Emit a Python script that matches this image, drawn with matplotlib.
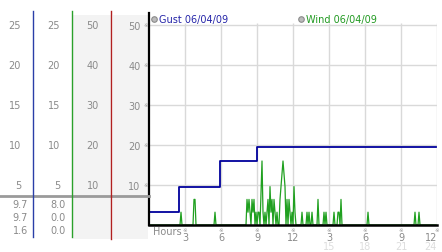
import numpy as np
import matplotlib
matplotlib.use("Agg")
import matplotlib.pyplot as plt
from matplotlib.transforms import blended_transform_factory
from matplotlib.lines import Line2D
from matplotlib.patches import Rectangle

# ---------------- data ----------------
gust_hours = [0.0, 2.5, 5.9, 9.0, 23.9]
gust_mph = [1.6, 4.7, 8.0, 9.7, 9.7]

# wind samples every 5 minutes (index = 5-min slot of the day), mph
wind_slots = [32, 45, 46, 66,
              98, 99, 100, 101, 103, 104, 105, 107, 109, 110, 112, 113, 114,
              116, 118, 119, 121, 122, 123, 125, 126, 128, 131, 132, 133, 134,
              135, 136, 138, 140, 141, 143, 145, 146,
              153, 158, 160, 163, 169, 175, 177, 185, 189, 190, 192,
              219, 266, 270]
wind_mph = [1.6, 3.2, 3.2, 1.6,
            3.2, 1.6, 3.2, 1.6, 3.2, 1.6, 3.2, 1.6, 1.6, 1.6, 4.0, 8.0, 1.6,
            1.6, 1.6, 3.2, 4.8, 1.6, 3.2, 3.2, 1.6, 1.6, 3.2, 4.8, 6.4, 8.0,
            6.4, 4.8, 3.2, 3.2, 1.6, 1.6, 4.8, 1.6,
            1.6, 1.6, 1.6, 1.6, 3.2, 1.6, 1.6, 1.6, 1.6, 1.6, 3.2,
            1.6, 1.6, 1.6]

col1_labels = [25, 20, 15, 10, 5]      # gust mph scale
col2_labels = [25, 20, 15, 10, 5]      # wind mph scale
col3_labels = [50, 40, 30, 20, 10]     # wind km/h-like scale
main_ticks = [5, 10, 15, 20, 25]
main_tick_labels = ["10", "20", "30", "40", "50"]
summary_col1 = ["9.7", "9.7", "1.6"]
summary_col2 = ["8.0", "0.0", "0.0"]
hour_ticks = [3, 6, 9, 12, 15, 18, 21, 24]
hour_labels = ["3", "6", "9", "12", "3", "6", "9", "12"]
hour24_ticks = [15, 18, 21, 24]
hour24_labels = ["15", "18", "21", "24"]
gust_legend = "Gust 06/04/09"
wind_legend = "Wind 06/04/09"

# --------------- layout helpers ---------------
W, H = 442, 253
fig = plt.figure(figsize=(W / 100, H / 100), dpi=100)
fig.patch.set_facecolor("white")

def fx(px):
    return px / W

def fy(py):
    return 1 - py / H

AX_L, AX_R, AX_T, AX_B = 149, 437, 14, 226
ax = fig.add_axes([fx(AX_L), fy(AX_B), (AX_R - AX_L) / W, (AX_B - AX_T) / H])
ax.set_xlim(0, 24)
ax.set_ylim(0, 26.5)
ax.set_facecolor("none")
ax.set_zorder(2)

# gray background columns on the left panel
for x0, x1 in [(73, 111), (113, 148)]:
    fig.patches.append(Rectangle((fx(x0), fy(240)), (x1 - x0) / W, (240 - 16) / H,
                                 transform=fig.transFigure, facecolor="#f3f3f3",
                                 edgecolor="none", zorder=-5))

# grid
grid_c = "#d9d9d9"
for v in main_ticks:
    ax.axhline(v, color=grid_c, lw=1, zorder=1)
for h in hour_ticks:
    ax.vlines(h, 0, 25.3, color=grid_c, lw=1, zorder=1)

# wind series
t = np.arange(0, 24, 1 / 12)
w = np.zeros_like(t)
w[np.array(wind_slots)] = wind_mph
ax.plot(t, w, color="#20a020", lw=0.9, zorder=2)

# gust step line
ax.plot(gust_hours, gust_mph, drawstyle="steps-post", color="#00009c", lw=1.3, zorder=3)

for s in ["top", "right"]:
    ax.spines[s].set_visible(False)
ax.spines["left"].set_color("black")
ax.spines["left"].set_linewidth(1.6)
ax.spines["bottom"].set_color("black")
ax.spines["bottom"].set_linewidth(1.8)
ax.spines["left"].set_zorder(5)
ax.spines["bottom"].set_zorder(5)

txt_c = "#8a8a8a"
fs = 7

# y tick labels on main axis
ax.set_yticks(main_ticks)
ax.set_yticklabels(main_tick_labels, fontsize=fs, color=txt_c)
ax.tick_params(axis="y", length=0, pad=6)
ax.set_xticks([])

ty = blended_transform_factory(fig.transFigure, ax.transData)
for v in main_ticks:
    fig.text(fx(145.5), v, "\u203b", transform=ty, fontsize=4, color="#999999",
             ha="center", va="center")

# left panel columns
for lab in col1_labels:
    fig.text(fx(21), lab, str(lab), transform=ty, fontsize=fs, color=txt_c, ha="right", va="center")
for lab in col2_labels:
    fig.text(fx(60), lab, str(lab), transform=ty, fontsize=fs, color=txt_c, ha="right", va="center")
for lab in col3_labels:
    fig.text(fx(99), lab / 2, str(lab), transform=ty, fontsize=fs, color=txt_c, ha="right", va="center")

# separator line and vertical colored lines
fig.lines.append(Line2D([0, fx(149)], [fy(197), fy(197)], transform=fig.transFigure,
                        color="#9a9a9a", lw=2, zorder=3))
for xp, c, yb in [(33.3, "#2a3fa8", 238), (72.3, "#2aa02a", 238), (111, "#b02020", 240)]:
    fig.lines.append(Line2D([fx(xp), fx(xp)], [fy(12), fy(yb)], transform=fig.transFigure,
                            color=c, lw=1, zorder=4))

# summary values
for i, (a, b) in enumerate(zip(summary_col1, summary_col2)):
    yy = fy(205 + 13 * i)
    fig.text(fx(28), yy, a, fontsize=fs, color=txt_c, ha="right", va="center")
    fig.text(fx(66), yy, b, fontsize=fs, color=txt_c, ha="right", va="center")

# legends
for xp, label, c in [(154, gust_legend, "#2424a8"), (301, wind_legend, "#229a22")]:
    fig.lines.append(Line2D([fx(xp)], [fy(20)], transform=fig.transFigure, marker="o",
                            markersize=4, mfc="#bbbbbb", mec="#8a8a8a", mew=0.8, ls="none"))
    fig.text(fx(xp + 5), fy(20), label, fontsize=7, color=c, ha="left", va="center")

# x axis labels
tx = blended_transform_factory(ax.transData, fig.transFigure)
fig.text(fx(153), fy(232.5), "Hours", fontsize=fs, color=txt_c, ha="left", va="center")
for h, lab in zip(hour_ticks, hour_labels):
    fig.text(h, fy(230.5), "\u203b", transform=tx, fontsize=4, color="#999999", ha="center", va="center")
    fig.text(h, fy(238), lab, transform=tx, fontsize=fs, color=txt_c,
             ha="right" if h == 24 else "center", va="center")
for h, lab in zip(hour24_ticks, hour24_labels):
    fig.text(h, fy(247.5), lab, transform=tx, fontsize=fs, color="#dddddd",
             ha="right" if h == 24 else "center", va="center")

fig.savefig("out.png", dpi=100)
